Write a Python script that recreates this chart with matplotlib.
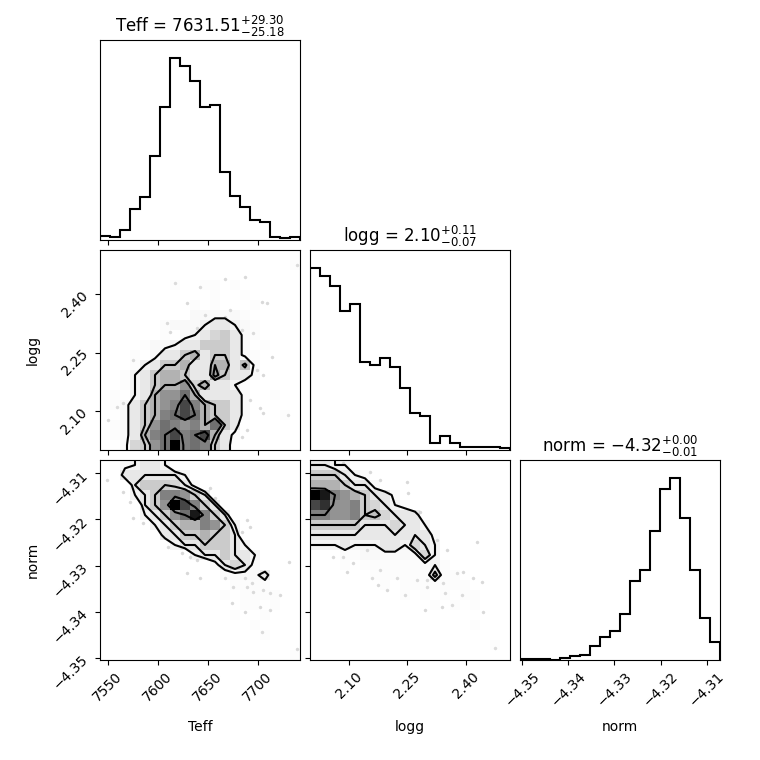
import numpy as np
import matplotlib
matplotlib.use("Agg")
import matplotlib.pyplot as plt
from matplotlib.colors import LinearSegmentedColormap
from matplotlib.ticker import FixedLocator, NullLocator

labels = ["Teff", "logg", "norm"]
titles = [r"Teff = $7631.51_{-25.18}^{+29.30}$",
          r"logg = $2.10_{-0.07}^{+0.11}$",
          r"norm = ${-4.32}_{-0.01}^{+0.00}$"]
ranges = [(7542.3, 7742.3), (2.0, 2.513), (-4.3505, -4.3071)]
ticks = [[7550, 7600, 7650, 7700],
         [2.10, 2.25, 2.40],
         [-4.35, -4.34, -4.33, -4.32, -4.31]]

# 1d histogram counts (20 bins each)
teff_hist = [13, 8, 30, 92, 128, 253, 398, 545, 523, 478, 398, 406, 205, 131, 98, 60, 54, 8, 5, 8]
logg_hist = [545, 523, 493, 417, 437, 265, 255, 275, 248, 187, 110, 102, 20, 42, 20, 8, 8, 8, 8, 5]
norm_hist = [2, 2, 2, 0, 7, 11, 14, 42, 68, 86, 139, 237, 269, 388, 512, 545, 425, 269, 125, 54]

# 2d histogram counts, top row first (x = column param, y = row param)
teff_logg_grid = """
0 0 0 0 0 0 0 0 0 0 0 0 0 0 0 0 0 0 0 2
0 0 0 0 0 0 0 0 0 0 0 0 0 0 0 0 0 0 0 2
0 0 0 0 0 0 0 0 0 0 0 0 0 0 0 0 0 0 0 0
0 0 0 0 0 0 0 2 0 0 2 2 0 2 0 0 0 0 0 0
0 0 0 0 0 0 0 0 0 0 0 2 0 0 2 0 0 0 0 0
0 0 0 0 0 0 0 0 0 2 0 2 0 0 0 2 0 0 0 0
0 0 0 0 0 0 0 0 0 3 3 3 3 3 2 0 0 0 0 0
0 0 0 0 0 0 2 3 3 3 4 6 6 4 3 2 0 0 0 0
0 0 0 0 0 0 2 0 3 4 6 8 9 6 3 2 0 0 0 0
0 0 0 0 2 3 3 4 6 6 9 9 9 6 3 0 2 0 0 0
0 0 0 2 0 3 6 6 9 11 6 9 9 6 3 2 0 0 0 0
0 0 0 2 4 6 9 9 11 6 6 11 11 6 10 3 0 0 0 0
0 0 2 4 6 9 11 11 9 6 6 12 9 6 6 3 0 0 0 0
0 0 2 4 6 9 11 11 13 8 11 6 6 4 2 0 0 0 0 0
0 2 0 4 6 11 13 13 15 11 6 6 6 6 3 0 0 2 0 0
0 2 3 6 9 11 13 14 17 14 11 9 9 6 3 0 0 0 0 0
0 0 3 6 9 11 14 15 17 15 11 9 9 6 3 0 0 0 2 0
0 2 3 6 9 13 15 14 13 14 11 15 9 6 0 0 0 0 0 0
0 2 3 6 11 14 15 17 14 15 17 11 6 3 0 0 0 0 0 0
0 0 3 8 9 13 15 20 14 15 14 9 6 2 0 0 0 0 0 0
"""

teff_norm_grid = """
0 2 3 4 6 6 4 0 0 0 0 0 0 0 0 0 0 0 0 0
0 0 6 6 6 6 6 6 4 0 0 0 0 0 0 0 0 0 0 0
0 0 0 6 9 9 9 8 6 3 0 0 0 0 0 0 0 0 0 0
0 0 0 4 6 9 14 14 13 9 6 0 0 0 0 0 0 0 0 0
0 0 0 0 6 9 13 20 17 14 9 6 0 0 0 0 0 0 0 0
0 0 0 0 4 6 9 13 15 19 14 9 6 0 0 0 0 0 0 0
0 0 0 0 0 4 6 9 11 11 14 13 9 4 0 0 0 0 0 0
0 0 0 0 0 0 6 6 9 9 11 9 9 6 0 0 0 0 0 0
0 0 0 0 0 0 0 4 6 6 9 9 9 6 4 0 0 0 0 0
0 0 0 0 0 0 0 0 0 4 6 6 9 6 6 4 0 0 0 0
0 0 0 0 0 0 0 0 0 0 0 3 6 8 6 3 0 0 0 0
0 0 0 0 0 0 0 0 0 0 0 0 2 3 3 3 6 0 0 0
0 0 0 0 0 0 0 0 0 0 0 0 0 2 2 2 2 0 0 0
0 0 0 0 0 0 0 0 0 0 0 0 2 0 2 2 2 2 0 0
0 0 0 0 0 0 0 0 0 0 0 0 0 0 2 2 0 2 0 0
0 0 0 0 0 0 0 0 0 0 0 0 0 2 0 0 2 0 0 0
0 0 0 0 0 0 0 0 0 0 0 0 0 0 0 2 0 0 0 0
0 0 0 0 0 0 0 0 0 0 0 0 0 0 0 0 2 0 0 0
0 0 0 0 0 0 0 0 0 0 0 0 0 0 0 0 0 0 0 0
0 0 0 0 0 0 0 0 0 0 0 0 0 0 0 0 0 0 0 2
"""

logg_norm_grid = """
6 6 4 4 0 0 0 0 0 0 0 0 0 0 0 0 0 0 0 0
9 9 9 6 4 3 0 0 0 0 0 0 0 0 0 0 0 0 0 0
11 11 11 9 6 6 3 0 0 0 0 0 0 0 0 0 0 0 0 0
20 19 14 13 11 9 6 6 3 0 0 0 0 0 0 0 0 0 0 0
17 18 13 13 14 9 8 6 4 3 0 0 0 0 0 0 0 0 0 0
14 14 13 13 14 9 10 8 6 6 6 0 0 0 0 0 0 0 0 0
9 9 9 9 9 6 6 6 8 6 6 4 0 0 0 0 0 0 0 0
6 6 6 6 6 6 6 6 6 6 6 6 3 0 0 0 0 0 0 0
4 4 4 6 4 4 4 6 6 4 8 6 4 0 0 0 0 0 0 0
0 0 0 2 2 3 3 3 3 3 3 8 4 0 0 0 0 0 0 0
0 0 0 2 0 2 2 2 2 2 2 3 4 2 0 0 0 0 0 0
0 0 0 0 0 0 2 2 2 2 2 2 7 2 2 0 0 0 0 0
0 0 0 0 0 0 0 2 0 2 2 2 2 2 2 2 0 0 0 0
0 0 0 0 0 0 0 0 0 2 0 2 0 2 0 2 2 0 0 0
0 0 0 0 0 0 0 0 0 0 0 0 2 0 2 0 2 0 0 0
0 0 0 0 0 0 0 0 0 0 0 0 0 0 0 0 0 0 0 0
0 0 0 0 0 0 0 0 0 0 0 0 0 0 0 0 2 0 0 0
0 0 0 0 0 0 0 0 0 0 0 0 0 0 0 0 0 0 0 0
0 0 0 0 0 0 0 0 0 0 0 0 0 0 0 0 0 0 2 0
0 0 0 0 0 0 0 0 0 0 0 0 0 0 0 0 0 0 0 0
"""

# loose samples visible outside the contours
teff_logg_pts_x = [7617, 7642, 7667, 7687, 7629, 7647, 7667, 7672, 7609, 7612, 7639, 7575,
                   7585, 7589, 7699, 7705, 7714, 7704, 7709, 7730, 7705, 7692, 7702, 7559,
                   7565, 7550, 7689, 7684, 7679, 7695, 7684, 7739]
teff_logg_pts_y = [2.429, 2.419, 2.439, 2.445, 2.378, 2.347, 2.342, 2.360, 2.326, 2.303, 2.314, 2.231,
                   2.198, 2.213, 2.206, 2.193, 2.239, 2.380, 2.378, 2.090, 2.095, 2.129, 2.108, 2.111,
                   2.121, 2.077, 2.051, 2.033, 2.154, 2.301, 2.308, 2.475]
teff_norm_pts_x = [7549, 7565, 7572, 7575, 7585, 7605, 7610, 7624, 7632, 7639, 7629, 7642,
                   7652, 7657, 7689, 7692, 7684, 7679, 7667, 7675, 7687, 7689, 7694, 7695,
                   7705, 7712, 7674, 7687, 7702, 7712, 7722, 7731, 7704, 7739]
teff_norm_pts_y = [-4.3114, -4.3140, -4.3162, -4.3197, -4.3208, -4.3234, -4.3260, -4.3273, -4.3282,
                   -4.3288, -4.3316, -4.3327, -4.3132, -4.3153, -4.3201, -4.3216, -4.3227, -4.3245,
                   -4.3327, -4.3347, -4.3327, -4.3347, -4.3338, -4.3357, -4.3353, -4.3360, -4.3381,
                   -4.3401, -4.3390, -4.3397, -4.3364, -4.3292, -4.3444, -4.3481]
logg_norm_pts_x = [2.085, 2.111, 2.154, 2.180, 2.249, 2.252, 2.283, 2.059, 2.085, 2.111, 2.095, 2.146,
                   2.159, 2.180, 2.198, 2.175, 2.224, 2.244, 2.275, 2.301, 2.301, 2.342, 2.347, 2.378,
                   2.393, 2.391, 2.419, 2.442, 2.365, 2.339, 2.296, 2.429, 2.445, 2.475, 2.352, 2.326]
logg_norm_pts_y = [-4.3078, -4.3104, -4.3097, -4.3114, -4.3119, -4.3143, -4.3184, -4.3281, -4.3281,
                   -4.3294, -4.3314, -4.3266, -4.3327, -4.3310, -4.3353, -4.3342, -4.3327, -4.3364,
                   -4.3331, -4.3331, -4.3347, -4.3338, -4.3360, -4.3316, -4.3314, -4.3364, -4.3327,
                   -4.3336, -4.3386, -4.3390, -4.3397, -4.3249, -4.3401, -4.3479, -4.3266, -4.3245]

hists = [teff_hist, logg_hist, norm_hist]
pairs = {
    (1, 0): (teff_logg_grid, teff_logg_pts_x, teff_logg_pts_y),
    (2, 0): (teff_norm_grid, teff_norm_pts_x, teff_norm_pts_y),
    (2, 1): (logg_norm_grid, logg_norm_pts_x, logg_norm_pts_y),
}

levels = 1.0 - np.exp(-0.5 * np.arange(0.5, 2.1, 0.5) ** 2)
density_cmap = LinearSegmentedColormap.from_list("density_cmap", ["k", (1, 1, 1, 0)])
white_cmap = LinearSegmentedColormap.from_list("white_cmap", [(1, 1, 1), (1, 1, 1)], N=2)


def parse(s):
    rows = [list(map(float, r.split())) for r in s.strip().splitlines()]
    return np.array(rows)[::-1]  # row 0 = bottom


def contour_levels(H):
    Hflat = np.sort(H.flatten())[::-1]
    sm = np.cumsum(Hflat)
    sm /= sm[-1]
    V = np.empty(len(levels))
    for i, v0 in enumerate(levels):
        try:
            V[i] = Hflat[sm <= v0][-1]
        except IndexError:
            V[i] = Hflat[0]
    V.sort()
    m = np.diff(V) == 0
    while np.any(m):
        V[np.where(m)[0][0]] *= 1.0 - 1e-4
        m = np.diff(V) == 0
    return V


def pad(H, X1, Y1):
    H2 = H.min() + np.zeros((H.shape[0] + 4, H.shape[1] + 4))
    H2[2:-2, 2:-2] = H
    H2[2:-2, 1] = H[:, 0]
    H2[2:-2, -2] = H[:, -1]
    H2[1, 2:-2] = H[0]
    H2[-2, 2:-2] = H[-1]
    H2[1, 1] = H[0, 0]
    H2[1, -2] = H[0, -1]
    H2[-2, 1] = H[-1, 0]
    H2[-2, -2] = H[-1, -1]
    X2 = np.concatenate([X1[0] + np.array([-2, -1]) * np.diff(X1[:2]), X1,
                         X1[-1] + np.array([1, 2]) * np.diff(X1[-2:])])
    Y2 = np.concatenate([Y1[0] + np.array([-2, -1]) * np.diff(Y1[:2]), Y1,
                         Y1[-1] + np.array([1, 2]) * np.diff(Y1[-2:])])
    return X2, Y2, H2


fig, axes = plt.subplots(3, 3, figsize=(7.6, 7.6), dpi=100)
fig.subplots_adjust(left=1.0 / 7.6, bottom=1.0 / 7.6, right=7.2 / 7.6, top=7.2 / 7.6,
                    wspace=0.05, hspace=0.05)

K = 3
for i in range(K):
    for j in range(K):
        ax = axes[i, j]
        if j > i:
            ax.set_frame_on(False)
            ax.set_xticks([])
            ax.set_yticks([])
            continue
        if i == j:
            lo, hi = ranges[i]
            edges = np.linspace(lo, hi, 21)
            centers = 0.5 * (edges[1:] + edges[:-1])
            ax.hist(centers, bins=edges, weights=hists[i], histtype="step", color="k", lw=1.5)
            ax.set_xlim(lo, hi)
            ax.set_ylim(0, 1.1 * max(hists[i]))
            ax.set_title(titles[i], fontsize=12)
            ax.yaxis.set_major_locator(NullLocator())
        else:
            grid, px, py = pairs[(i, j)]
            H = parse(grid)
            xlo, xhi = ranges[j]
            ylo, yhi = ranges[i]
            X = np.linspace(xlo, xhi, H.shape[1] + 1)
            Y = np.linspace(ylo, yhi, H.shape[0] + 1)
            X1 = 0.5 * (X[1:] + X[:-1])
            Y1 = 0.5 * (Y[1:] + Y[:-1])
            V = contour_levels(H)
            X2, Y2, H2 = pad(H, X1, Y1)

            ax.plot(px, py, "o", color="k", ms=2.5, alpha=0.15, mec="none", zorder=-1)
            ax.contourf(X2, Y2, H2, [V.min(), H.max()], cmap=white_cmap, antialiased=False)
            ax.pcolor(X, Y, H.max() - H, cmap=density_cmap)
            ax.contour(X2, Y2, H2, V, colors="k", linewidths=1.5)
            ax.set_xlim(xlo, xhi)
            ax.set_ylim(ylo, yhi)
            ax.yaxis.set_major_locator(FixedLocator(ticks[i]))

        ax.xaxis.set_major_locator(FixedLocator(ticks[j]))
        if i < K - 1:
            ax.set_xticklabels([])
        else:
            for lab in ax.get_xticklabels():
                lab.set_rotation(45)
            ax.set_xlabel(labels[j])
            ax.xaxis.set_label_coords(0.5, -0.3)
        if j > 0 or i == j:
            ax.set_yticklabels([])
        else:
            for lab in ax.get_yticklabels():
                lab.set_rotation(45)
            ax.set_ylabel(labels[i])
            ax.yaxis.set_label_coords(-0.3, 0.5)

fig.savefig("out.png", dpi=100)
